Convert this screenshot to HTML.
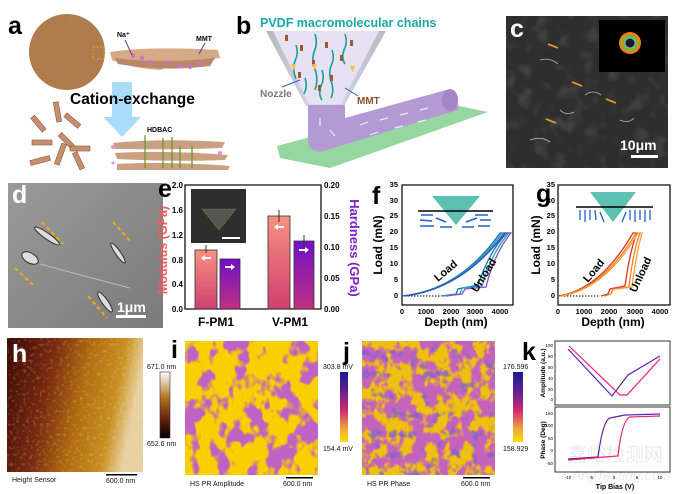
<!DOCTYPE html>
<html><head><meta charset="utf-8"><style>
html,body{margin:0;padding:0;background:#fff;}
svg{display:block;font-family:"Liberation Sans",Arial,sans-serif;}
.L{font-weight:bold;font-size:25px;fill:#000}
.s{font-size:7px;fill:#111}
</style></head><body>
<svg width="680" height="494" viewBox="0 0 680 494" xmlns="http://www.w3.org/2000/svg">
<defs>
<filter id="noiseBrown" x="0" y="0" width="1" height="1"><feTurbulence type="fractalNoise" baseFrequency="0.45" numOctaves="2" seed="3"/><feColorMatrix type="matrix" values="0 0 0 0 0.42 0 0 0 0 0.24 0 0 0 0 0.12 2 0 0 0 -0.9"/><feComposite in2="SourceGraphic" operator="in"/></filter>
<filter id="blobI" x="0" y="0" width="1" height="1"><feTurbulence type="fractalNoise" baseFrequency="0.06 0.045" numOctaves="3" seed="5"/><feColorMatrix type="matrix" values="0 0 0 0 0.52 0 0 0 0 0.12 0 0 0 0 0.55 1 0 0 0 0"/><feComponentTransfer><feFuncA type="linear" slope="8" intercept="-3.9"/></feComponentTransfer><feComposite in2="SourceGraphic" operator="in"/></filter>
<filter id="blobJ" x="0" y="0" width="1" height="1"><feTurbulence type="fractalNoise" baseFrequency="0.08 0.06" numOctaves="3" seed="8"/><feColorMatrix type="matrix" values="0 0 0 0 0.55 0 0 0 0 0.12 0 0 0 0 0.5 1 0 0 0 0"/><feComponentTransfer><feFuncA type="linear" slope="7" intercept="-3.0"/></feComponentTransfer><feComposite in2="SourceGraphic" operator="in"/></filter>
<filter id="blueN" x="0" y="0" width="1" height="1"><feTurbulence type="fractalNoise" baseFrequency="0.1" numOctaves="2" seed="11"/><feColorMatrix type="matrix" values="0 0 0 0 0.22 0 0 0 0 0.12 0 0 0 0 0.62 1 0 0 0 0"/><feComponentTransfer><feFuncA type="linear" slope="6" intercept="-3.5"/></feComponentTransfer><feComposite in2="SourceGraphic" operator="in"/></filter>
<filter id="specks" x="0" y="0" width="1" height="1"><feTurbulence type="fractalNoise" baseFrequency="0.06" numOctaves="2" seed="4"/><feColorMatrix type="matrix" values="0 0 0 0 0.6 0 0 0 0 0.6 0 0 0 0 0.6 1 0 0 0 0"/><feComponentTransfer><feFuncA type="linear" slope="3" intercept="-1.5"/></feComponentTransfer><feComposite in2="SourceGraphic" operator="in"/></filter>
<filter id="hN" x="0" y="0" width="1" height="1"><feTurbulence type="fractalNoise" baseFrequency="0.3" numOctaves="2" seed="2"/><feColorMatrix type="matrix" values="0 0 0 0 1 0 0 0 0 0.85 0 0 0 0 0.5 1.4 0 0 0 -0.75"/><feComposite in2="SourceGraphic" operator="in"/></filter>
<linearGradient id="hG" x1="0" y1="0" x2="1" y2="0.2"><stop offset="0" stop-color="#3a0a05"/><stop offset="0.35" stop-color="#7a2a10"/><stop offset="0.6" stop-color="#b06a10"/><stop offset="0.85" stop-color="#c89020"/><stop offset="1" stop-color="#e8d0a0"/></linearGradient>
<linearGradient id="hBar" x1="0" y1="0" x2="0" y2="1"><stop offset="0" stop-color="#fff"/><stop offset="0.4" stop-color="#b07020"/><stop offset="0.75" stop-color="#5a1a08"/><stop offset="1" stop-color="#000"/></linearGradient>
<linearGradient id="pBar" x1="0" y1="0" x2="0" y2="1"><stop offset="0" stop-color="#1a1a90"/><stop offset="0.3" stop-color="#6a2090"/><stop offset="0.55" stop-color="#d02a70"/><stop offset="0.8" stop-color="#f0a040"/><stop offset="1" stop-color="#f8e000"/></linearGradient>
<linearGradient id="redBar" x1="0" y1="0" x2="0" y2="1"><stop offset="0" stop-color="#f89080"/><stop offset="1" stop-color="#d04070"/></linearGradient>
<linearGradient id="purBar" x1="0" y1="0" x2="0" y2="1"><stop offset="0" stop-color="#7010c8"/><stop offset="1" stop-color="#c03080"/></linearGradient>
<linearGradient id="cone" x1="0" y1="0" x2="1" y2="0"><stop offset="0" stop-color="#b8b8c0"/><stop offset="0.5" stop-color="#dedcf0"/><stop offset="1" stop-color="#b8b8c0"/></linearGradient>
<linearGradient id="dG" x1="0" y1="0" x2="1" y2="1"><stop offset="0" stop-color="#9a9a9a"/><stop offset="1" stop-color="#7a7a7a"/></linearGradient>
</defs>

<!-- a -->
<text x="8" y="34" class="L">a</text>
<circle cx="67" cy="52" r="38" fill="#b07a4a"/>
<circle cx="67" cy="52" r="38" fill="#000" filter="url(#noiseBrown)"/>
<rect x="93" y="47" width="11" height="12" fill="none" stroke="#f0a020" stroke-dasharray="2,1.5"/>
<path d="M110 52 Q150 46 218 50 L220 58 Q180 62 160 70 Q130 68 112 60Z" fill="#d7aa86"/>
<path d="M115 58 Q160 64 215 58 L210 66 Q165 72 118 64Z" fill="#b88868"/>
<g fill="#d36ad0"><circle cx="133" cy="56" r="2"/><circle cx="142" cy="58" r="2"/><circle cx="150" cy="62" r="2"/><circle cx="170" cy="63" r="2"/><circle cx="180" cy="66" r="2"/><circle cx="190" cy="67" r="2"/><circle cx="200" cy="64" r="2"/></g>
<text x="117" y="37" font-size="7" font-weight="bold">Na⁺</text>
<line x1="125" y1="40" x2="132" y2="55" stroke="#7030a0"/>
<text x="196" y="41" font-size="7" font-weight="bold">MMT</text>
<line x1="205" y1="43" x2="199" y2="54" stroke="#7030a0"/>
<path d="M112 82 H132 V117 H141 L122 137 L103 117 H112Z" fill="#a8dcf8"/>
<text x="70" y="104" font-size="15.5" font-weight="bold">Cation-exchange</text>
<g fill="#c49070" stroke="#8a5a3a" stroke-width="0.6">
<rect x="55" y="102" width="5" height="20" transform="rotate(-10 57 112)"/>
<rect x="70" y="112" width="5" height="18" transform="rotate(-50 72 121)"/>
<rect x="36" y="115" width="5" height="18" transform="rotate(-40 38 124)"/>
<rect x="32" y="140" width="20" height="5"/>
<rect x="64" y="132" width="5" height="18" transform="rotate(-45 66 141)"/>
<rect x="70" y="146" width="20" height="5"/>
<rect x="30" y="158" width="20" height="5" transform="rotate(-15 40 160)"/>
<rect x="76" y="152" width="5" height="18" transform="rotate(-25 78 161)"/>
<rect x="58" y="143" width="5" height="22" transform="rotate(20 60 154)"/>
</g>
<g fill="#c9a080">
<path d="M113 143 Q160 138 225 142 L222 148 Q170 150 115 149Z"/>
<path d="M115 153 Q165 150 228 155 L225 160 Q170 162 117 159Z"/>
<path d="M117 164 Q165 161 230 166 L228 170 L117 170Z"/>
</g>
<g stroke="#6a9a20" stroke-width="1.3"><line x1="145" y1="135" x2="145" y2="168"/><line x1="163" y1="138" x2="163" y2="168"/><line x1="172" y1="137" x2="172" y2="168"/><line x1="180" y1="146" x2="180" y2="168"/><line x1="192" y1="146" x2="192" y2="168"/></g>
<g fill="#ee88dd"><circle cx="113" cy="147" r="2"/><circle cx="220" cy="153" r="2"/><circle cx="113" cy="163" r="1.5"/></g>
<text x="147" y="132" font-size="7" font-weight="bold">HDBAC</text>

<!-- b -->
<text x="236" y="34" class="L">b</text>
<text x="260" y="27" font-size="12.5" font-weight="bold" fill="#18a8a8">PVDF macromolecular chains</text>
<path d="M266 31 L386 31 L344 106 L306 106Z" fill="url(#cone)"/>
<path d="M273 31 L379 31 L341 104 L309 104Z" fill="#e6e2f4"/>
<g stroke="#1aa090" stroke-width="1.6" fill="none">
<path d="M296 45 q3 8 -1 16 q-3 8 1 18"/><path d="M315 34 q3 10 -1 18 q-3 10 2 20 q2 10 -1 18"/><path d="M332 50 q3 8 -1 16 q-3 8 1 18 q2 8 -1 14"/><path d="M345 34 q3 8 -1 16 q-3 8 1 14"/><path d="M322 70 q3 8 -1 16 q-3 8 1 14"/><path d="M305 78 q3 8 -1 16"/>
</g>
<g fill="#a05a2a"><rect x="285" y="35" width="3" height="6"/><rect x="300" y="45" width="3" height="6"/><rect x="325" y="42" width="3" height="6"/><rect x="340" y="55" width="3" height="6"/><rect x="312" y="60" width="3" height="6"/><rect x="298" y="72" width="3" height="6"/><rect x="330" y="75" width="3" height="6"/><rect x="318" y="85" width="3" height="6"/><rect x="350" y="40" width="3" height="6"/></g>
<g fill="#f8c040"><path d="M291 64 l5 0 l-2.5 6z"/><path d="M312 64 l5 0 l-2.5 6z"/><path d="M350 66 l5 0 l-2.5 6z"/></g>
<text x="260" y="97" font-size="10" font-weight="bold" fill="#777">Nozzle</text>
<line x1="282" y1="87" x2="300" y2="80" stroke="#2060c0"/>
<text x="357" y="104" font-size="10" font-weight="bold" fill="#905030">MMT</text>
<line x1="358" y1="96" x2="345" y2="88" stroke="#2060c0"/>
<path d="M277 146 L440 102 L488 112 L330 168 L280 158Z" fill="#96d6a0"/>
<path d="M308 105 L345 105 L345 118 L446 90 Q460 92 458 110 L320 152 Q308 150 308 140Z" fill="#b49ad4"/>
<ellipse cx="450" cy="100" rx="8" ry="11" fill="#a486c8"/>
<g stroke="#eee" stroke-width="1.2"><line x1="360" y1="125" x2="368" y2="122"/><line x1="380" y1="120" x2="388" y2="118"/><line x1="400" y1="115" x2="408" y2="113"/><line x1="420" y1="110" x2="428" y2="108"/><line x1="370" y1="135" x2="378" y2="132"/><line x1="395" y1="128" x2="403" y2="126"/><line x1="418" y1="122" x2="426" y2="120"/><line x1="320" y1="118" x2="320" y2="126"/><line x1="330" y1="130" x2="335" y2="136"/></g>

<!-- c -->
<rect x="506" y="16" width="162" height="152" fill="#2e2e2e"/>
<rect x="506" y="16" width="162" height="152" fill="#000" filter="url(#specks)" opacity="0.15"/>
<g stroke="#bbb" stroke-width="0.8" fill="none"><path d="M540 60 q10 -3 18 4"/><path d="M585 95 q8 -6 16 0"/><path d="M530 140 q12 -4 20 2"/><path d="M620 120 q8 4 14 -2"/><path d="M560 110 q6 6 14 2"/></g>
<text x="510" y="37" class="L" style="fill:#fff">c</text>
<rect x="599" y="20" width="66" height="52" fill="#000"/>
<circle cx="630" cy="43" r="11" fill="#f08010"/><circle cx="630" cy="43" r="8" fill="#60c040"/><circle cx="630" cy="43" r="5" fill="#1a1a1a" stroke="#8ad" stroke-width="1"/>
<g stroke="#f0a020" stroke-width="1.6"><line x1="548" y1="44" x2="558" y2="48"/><line x1="572" y1="82" x2="582" y2="86"/><line x1="606" y1="99" x2="616" y2="103"/><line x1="546" y1="119" x2="556" y2="123"/></g>
<text x="620" y="150" font-size="14" font-weight="bold" fill="#fff">10μm</text>
<rect x="631" y="155" width="27" height="3" fill="#fff"/>

<!-- d -->
<rect x="8" y="183" width="155" height="145" fill="url(#dG)"/>
<text x="12" y="203" class="L" style="fill:#fff">d</text>
<g fill="#ddd" stroke="#333" stroke-width="1"><ellipse cx="47" cy="236" rx="15" ry="3" transform="rotate(35 47 236)"/><ellipse cx="30" cy="258" rx="9" ry="5" transform="rotate(30 30 258)"/><ellipse cx="118" cy="253" rx="12" ry="2.5" transform="rotate(55 118 253)"/><ellipse cx="105" cy="302" rx="12" ry="3" transform="rotate(55 105 302)"/></g>
<path d="M40 264 Q80 275 130 288" stroke="#bbb" fill="none"/>
<g stroke="#f0b000" stroke-width="2" stroke-dasharray="4,3"><line x1="42" y1="222" x2="63" y2="244"/><line x1="113" y1="222" x2="131" y2="242"/><line x1="15" y1="268" x2="33" y2="285"/><line x1="88" y1="296" x2="107" y2="318"/></g>
<text x="117" y="312" font-size="14" font-weight="bold" fill="#fff">1μm</text>
<rect x="116" y="315" width="30" height="3" fill="#fff"/>

<!-- e -->
<text x="158" y="197" class="L">e</text>
<text transform="translate(167 250) rotate(-90)" text-anchor="middle" font-size="12.5" font-weight="bold" fill="#f05a5a">Modulus (GPa)</text>
<rect x="185" y="185" width="136" height="124" fill="none" stroke="#000" stroke-width="1.2"/>
<g font-size="8" font-weight="bold" text-anchor="end">
<text x="183" y="188">2.0</text><text x="183" y="213">1.6</text><text x="183" y="238">1.2</text><text x="183" y="263">0.8</text><text x="183" y="287">0.4</text><text x="183" y="312">0.0</text></g>
<g font-size="8" font-weight="bold"><text x="324" y="188">0.20</text><text x="324" y="219">0.15</text><text x="324" y="250">0.10</text><text x="324" y="281">0.05</text><text x="324" y="312">0.00</text></g>
<text transform="translate(350 248) rotate(90)" text-anchor="middle" font-size="13" font-weight="bold" fill="#8020c8">Hardness (GPa)</text>
<rect x="195" y="250" width="22" height="59" fill="url(#redBar)" stroke="#333" stroke-width="0.8"/>
<rect x="220" y="259" width="20" height="50" fill="url(#purBar)" stroke="#333" stroke-width="0.8"/>
<rect x="268" y="216" width="22" height="93" fill="url(#redBar)" stroke="#333" stroke-width="0.8"/>
<rect x="294" y="241" width="20" height="68" fill="url(#purBar)" stroke="#333" stroke-width="0.8"/>
<g stroke="#333"><line x1="206" y1="245" x2="206" y2="253"/><line x1="279" y1="210" x2="279" y2="222"/><line x1="304" y1="235" x2="304" y2="248"/></g>
<g fill="#fff"><path d="M201 258 l4 -3 v2 h6 v2 h-6 v2z"/><path d="M235 267 l-4 -3 v2 h-6 v2 h6 v2z"/><path d="M274 227 l4 -3 v2 h6 v2 h-6 v2z"/><path d="M309 250 l-4 -3 v2 h-6 v2 h6 v2z"/></g>
<rect x="191" y="189" width="55" height="54" fill="#2e2e2e"/>
<path d="M202 209 L236 209 L219 230Z" fill="#555" stroke="#b0a020" stroke-width="0.6" stroke-dasharray="1,1"/>
<rect x="222" y="237" width="18" height="2" fill="#fff"/>
<text x="198" y="326" font-size="12" font-weight="bold">F-PM1</text>
<text x="272" y="326" font-size="12" font-weight="bold">V-PM1</text>

<!-- f -->
<text x="372" y="204" class="L">f</text>
<rect x="402" y="185" width="111" height="120" fill="none" stroke="#000" stroke-width="1.2"/>
<g font-size="7.5" font-weight="bold" text-anchor="end"><text x="398" y="298">0</text><text x="398" y="282">5</text><text x="398" y="266">10</text><text x="398" y="250">15</text><text x="398" y="234">20</text><text x="398" y="218">25</text><text x="398" y="203">30</text><text x="398" y="187">35</text></g>
<g font-size="7.5" font-weight="bold" text-anchor="middle"><text x="402" y="314">0</text><text x="426" y="314">1000</text><text x="451" y="314">2000</text><text x="475" y="314">3000</text><text x="500" y="314">4000</text></g>
<text transform="translate(382 245) rotate(-90)" text-anchor="middle" font-size="12" font-weight="bold">Load (mN)</text>
<text x="456" y="326" text-anchor="middle" font-size="12" font-weight="bold">Depth (nm)</text>
<line x1="402" y1="296" x2="440" y2="296" stroke="#000" stroke-dasharray="1.5,1.5"/>
<g fill="none" stroke-width="1.3">
<path d="M402 296 Q460 290 500 233 L507 233 Q490 250 478 285 L458 289 L456 294 L441 296" stroke="#1a70c0"/>
<path d="M404 296 Q462 289 502 233 L509 233 Q492 252 482 286 L462 288 L460 294 L443 296" stroke="#20a0c0"/>
<path d="M406 296 Q464 288 504 233 L511 233 Q494 254 486 287 L465 289 L462 294 L446 296" stroke="#9050c8"/>
<path d="M402 296 Q462 290 505 233" stroke="#1a60b0"/>
</g>
<text transform="translate(438 282) rotate(-40)" font-size="11" font-weight="bold">Load</text>
<text transform="translate(477 293) rotate(-58)" font-size="11" font-weight="bold">Unload</text>
<path d="M432 196 L480 196 L456 225Z" fill="#5ec0b0"/>
<line x1="418" y1="211" x2="493" y2="211" stroke="#000" stroke-width="1.5"/>
<g stroke="#2060d0" stroke-width="1.5"><line x1="421" y1="215" x2="433" y2="215"/><line x1="475" y1="215" x2="488" y2="215"/><line x1="420" y1="220" x2="432" y2="221"/><line x1="436" y1="218" x2="446" y2="222"/><line x1="466" y1="222" x2="477" y2="218"/><line x1="480" y1="220" x2="491" y2="220"/><line x1="420" y1="226" x2="434" y2="226"/><line x1="440" y1="227" x2="452" y2="227"/><line x1="462" y1="227" x2="474" y2="227"/><line x1="478" y1="226" x2="490" y2="226"/></g>

<!-- g -->
<text x="536" y="202" class="L">g</text>
<rect x="558" y="185" width="112" height="120" fill="none" stroke="#000" stroke-width="1.2"/>
<g font-size="7.5" font-weight="bold" text-anchor="end"><text x="555" y="298">0</text><text x="555" y="282">5</text><text x="555" y="266">10</text><text x="555" y="250">15</text><text x="555" y="234">20</text><text x="555" y="218">25</text><text x="555" y="203">30</text><text x="555" y="187">35</text></g>
<g font-size="7.5" font-weight="bold" text-anchor="middle"><text x="558" y="314">0</text><text x="584" y="314">1000</text><text x="609" y="314">2000</text><text x="635" y="314">3000</text><text x="660" y="314">4000</text></g>
<text transform="translate(540 245) rotate(-90)" text-anchor="middle" font-size="12" font-weight="bold">Load (mN)</text>
<text x="613" y="326" text-anchor="middle" font-size="12" font-weight="bold">Depth (nm)</text>
<line x1="558" y1="296" x2="600" y2="296" stroke="#000" stroke-dasharray="1.5,1.5"/>
<g fill="none" stroke-width="1.3">
<path d="M558 296 Q600 290 633 233 L637 233 Q630 250 625 286 L610 289 L608 294 L601 296" stroke="#e03020"/>
<path d="M560 296 Q603 289 636 233 L640 233 Q633 252 629 287 L613 289 L611 294 L604 296" stroke="#f08020"/>
<path d="M562 296 Q606 288 638 233 L642 233 Q636 254 632 287 L616 289" stroke="#f0a030"/>
</g>
<text transform="translate(588 283) rotate(-50)" font-size="11" font-weight="bold">Load</text>
<text transform="translate(636 293) rotate(-65)" font-size="11" font-weight="bold">Unload</text>
<path d="M590 192 L636 192 L613 222Z" fill="#5ec0b0"/>
<line x1="576" y1="207" x2="653" y2="207" stroke="#000" stroke-width="1.5"/>
<g stroke="#2060d0" stroke-width="1.3"><line x1="580" y1="210" x2="580" y2="220"/><line x1="585" y1="210" x2="585" y2="222"/><line x1="590" y1="210" x2="590" y2="220"/><line x1="595" y1="210" x2="596" y2="220"/><line x1="600" y1="212" x2="604" y2="222"/><line x1="622" y1="222" x2="626" y2="212"/><line x1="630" y1="210" x2="630" y2="220"/><line x1="635" y1="210" x2="635" y2="222"/><line x1="640" y1="210" x2="640" y2="220"/><line x1="645" y1="210" x2="645" y2="222"/><line x1="650" y1="210" x2="650" y2="220"/></g>

<!-- h -->
<rect x="7" y="338" width="136" height="134" fill="url(#hG)"/>
<rect x="7" y="338" width="136" height="134" fill="#000" filter="url(#hN)" opacity="0.6"/>
<text x="12" y="362" class="L" style="fill:#fff">h</text>
<rect x="160" y="372" width="10" height="66" fill="url(#hBar)" stroke="#333" stroke-width="0.6"/>
<text x="147" y="369" class="s">671.0 nm</text>
<text x="147" y="446" class="s">652.6 nm</text>
<text x="12" y="482" class="s">Height Sensor</text>
<rect x="106" y="474" width="31" height="1.5" fill="#000"/>
<text x="106" y="483" class="s">600.0 nm</text>

<!-- i -->
<text x="171" y="358" class="L">i</text>
<rect x="185" y="341" width="133" height="134" fill="#f8d000"/>
<rect x="185" y="341" width="133" height="134" fill="#000" filter="url(#blobI)"/>
<rect x="340" y="372" width="8" height="70" fill="url(#pBar)"/>
<text x="323" y="369" class="s">303.8 mV</text>
<text x="323" y="451" class="s">154.4 mV</text>
<text x="190" y="486" class="s">HS PR Amplitude</text>
<rect x="286" y="477" width="27" height="1.5" fill="#000"/>
<text x="283" y="486" class="s">600.0 nm</text>

<!-- j -->
<text x="343" y="360" class="L">j</text>
<rect x="362" y="341" width="133" height="134" fill="#f0c010"/>
<rect x="362" y="341" width="133" height="134" fill="#000" filter="url(#blobJ)"/>
<rect x="362" y="341" width="133" height="134" fill="#000" filter="url(#blueN)" opacity="0.8"/>
<rect x="513" y="372" width="10" height="70" fill="url(#pBar)"/>
<text x="503" y="369" class="s">176.596</text>
<text x="503" y="451" class="s">158.929</text>
<text x="367" y="486" class="s">HS PR Phase</text>
<rect x="463" y="477" width="27" height="1.5" fill="#000"/>
<text x="461" y="486" class="s">600.0 nm</text>

<!-- k -->
<text x="522" y="360" class="L">k</text>
<rect x="555" y="341" width="115" height="64" fill="none" stroke="#333" stroke-width="1"/>
<rect x="555" y="407" width="115" height="65" fill="none" stroke="#333" stroke-width="1"/>
<g font-size="4.5" text-anchor="end"><text x="553" y="347">100</text><text x="553" y="358">80</text><text x="553" y="369">60</text><text x="553" y="380">40</text><text x="553" y="391">20</text><text x="553" y="401">0</text>
<text x="553" y="415">150</text><text x="553" y="427">100</text><text x="553" y="440">50</text><text x="553" y="452">0</text><text x="553" y="465">-50</text></g>
<g font-size="4.5" text-anchor="middle"><text x="568" y="479">-10</text><text x="591" y="479">-5</text><text x="614" y="479">0</text><text x="637" y="479">5</text><text x="660" y="479">10</text></g>
<text transform="translate(545 373) rotate(-90)" text-anchor="middle" font-size="6.5" font-weight="bold">Amplitude (a.u.)</text>
<text transform="translate(545 440) rotate(-90)" text-anchor="middle" font-size="6.5" font-weight="bold">Phase (Deg)</text>
<text x="615" y="489" text-anchor="middle" font-size="7" font-weight="bold">Tip Bias (V)</text>
<g fill="none" stroke-width="1.2">
<path d="M568 349 L612 396 L628 375 L660 356" stroke="#6020b0"/>
<path d="M569 346 L620 395 L627 395 L660 359" stroke="#f02070"/>
<path d="M568 459 L598 457 Q603 420 610 418 L625 415 L660 414" stroke="#6020b0"/>
<path d="M568 460 L618 456 Q622 420 630 417 L660 416" stroke="#f02070"/>
</g>
<text x="568" y="461" font-size="19" fill="#000" opacity="0.08" font-family="'Noto Sans CJK SC',sans-serif">嘉峪检测网</text>
<text x="572" y="480" font-size="14" font-style="italic" fill="#000" opacity="0.08">AnyTesting.com</text>
</svg>
</body></html>
